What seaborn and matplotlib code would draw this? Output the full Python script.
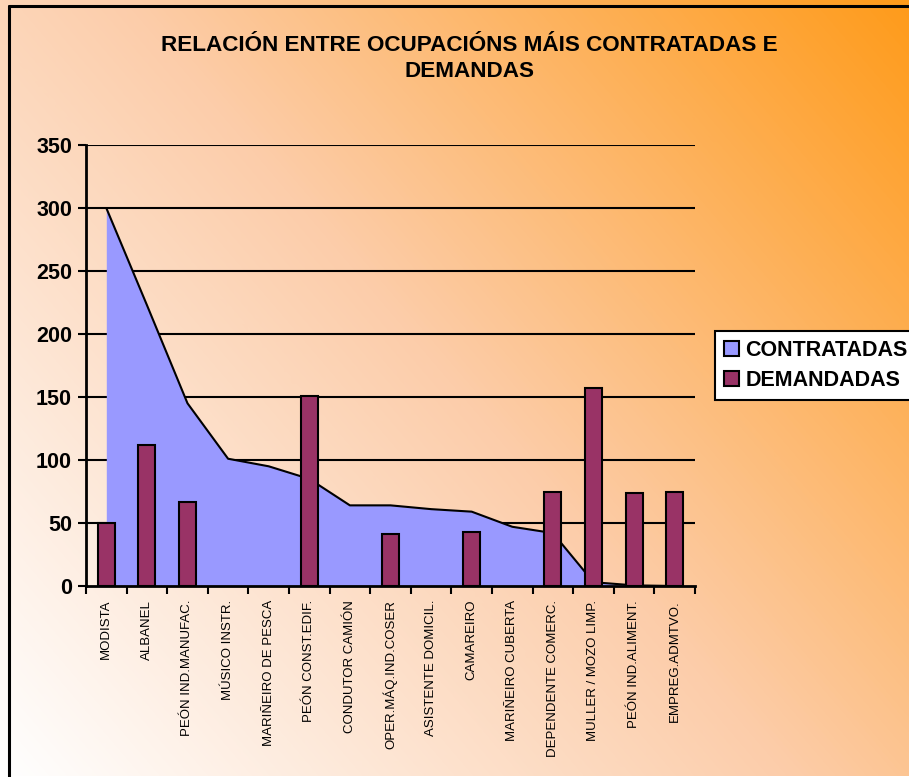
import numpy as np
import pandas as pd
import matplotlib
matplotlib.use("Agg")
import matplotlib.pyplot as plt
import seaborn as sns
from matplotlib.colors import LinearSegmentedColormap
from matplotlib.patches import Patch

sns.set_style("white")
plt.rcParams['font.family'] = ['Liberation Sans', 'DejaVu Sans']
plt.rcParams['text.color'] = 'black'
plt.rcParams['xtick.color'] = 'black'
plt.rcParams['ytick.color'] = 'black'

# data
ocupacions = ['MODISTA', 'ALBANEL', 'PEÓN IND.MANUFAC.', 'MÚSICO INSTR.',
              'MARIÑEIRO DE PESCA', 'PEÓN CONST.EDIF.', 'CONDUTOR CAMIÓN',
              'OPER.MÁQ.IND.COSER', 'ASISTENTE DOMICIL.', 'CAMAREIRO',
              'MARIÑEIRO CUBERTA', 'DEPENDENTE COMERC.', 'MULLER / MOZO LIMP.',
              'PEÓN IND.ALIMENT.', 'EMPREG.ADMTVO.']
contratadas = [300, 223, 145, 101, 95, 85, 64, 64, 61, 59, 47, 42, 3, 0.5, 0]
demandadas = [50, 112, 67, 0, 0, 151, 0, 41, 0, 43, 0, 75, 157, 74, 75]
yticks = [0, 50, 100, 150, 200, 250, 300, 350]

titulo = 'RELACIÓN ENTRE OCUPACIÓNS MÁIS CONTRATADAS E\nDEMANDAS'

df = pd.DataFrame({'ocupacion': ocupacions,
                   'contratadas': contratadas,
                   'demandadas': demandadas})
df['pos'] = np.arange(len(df))

fig = plt.figure(figsize=(9.09, 7.77), dpi=100)

# gradient background (orange top-right -> white bottom-left)
bg = fig.add_axes([0, 0, 1, 1])
W, H = 909, 777
xx, yy = np.meshgrid(np.arange(W), np.arange(H))
t = ((W - xx) * W + yy * H) / float(W * W + H * H)
cmap = LinearSegmentedColormap.from_list(
    'fondo', [(0.0, '#ff9b1a'), (0.5, '#fccdaa'), (1.0, '#ffffff')])
bg.imshow(t, cmap=cmap, vmin=0, vmax=1, aspect='auto', interpolation='bilinear')
bg.plot([9, 9], [H, 6], color='black', lw=2.2)
bg.plot([9, W], [6, 6], color='black', lw=2.2)
bg.set_xlim(0, W)
bg.set_ylim(H, 0)
bg.axis('off')

ax = fig.add_axes([86 / 909, 1 - 586 / 777, 609 / 909, 441 / 777])
ax.patch.set_alpha(0)

for y in yticks[1:]:
    ax.axhline(y, color='black', lw=1.5, zorder=1)

ax.fill_between(df['pos'], df['contratadas'], 0, color='#9999ff', lw=0, zorder=2)
sns.lineplot(data=df, x='pos', y='contratadas', color='black', lw=1.5,
             ax=ax, zorder=3)
sns.barplot(data=df, x='pos', y='demandadas', color='#993366', saturation=1,
            width=0.42, edgecolor='black', linewidth=1.5, ax=ax, zorder=4,
            native_scale=True)
# empty bars should not leave an outline on the axis
for p in ax.patches:
    if p.get_height() == 0:
        p.set_visible(False)

ax.set_xlim(-0.5, len(df) - 0.5)
ax.set_ylim(0, 350)
ax.set_yticks(yticks)
ax.set_yticklabels([str(v) for v in yticks], fontsize=15.5, fontweight='bold')
ax.set_xticks(df['pos'])
ax.set_xticklabels(ocupacions, rotation=90, fontsize=9.5)
ax.set_xticks(np.arange(-0.5, len(df)), minor=True)
ax.tick_params(axis='x', which='major', length=0, pad=10)
ax.tick_params(axis='x', which='minor', length=6, width=1.5, direction='out',
               bottom=True)
ax.tick_params(axis='y', length=6, width=1.5, direction='out', left=True, pad=4)
ax.set_xlabel('')
ax.set_ylabel('')
for s in ['top', 'right']:
    ax.spines[s].set_visible(False)
for s in ['left', 'bottom']:
    ax.spines[s].set_color('black')
    ax.spines[s].set_linewidth(2)
    ax.spines[s].set_zorder(5)

fig.text(469 / 909, 1 - 35 / 777, titulo, ha='center', va='top',
         fontsize=16.2, fontweight='bold', linespacing=1.3)

handles = [Patch(facecolor='#9999ff', edgecolor='black', lw=1.5),
           Patch(facecolor='#993366', edgecolor='black', lw=1.5)]
leg = fig.legend(handles, ['CONTRATADAS', 'DEMANDADAS'],
                 loc='upper left', bbox_to_anchor=(715 / 909, 1 - 331 / 777),
                 prop={'size': 15.5, 'weight': 'bold'}, frameon=True,
                 fancybox=False, handlelength=0.7, handleheight=0.7,
                 handletextpad=0.3, borderpad=0.4, labelspacing=0.45,
                 borderaxespad=0)
leg.get_frame().set_edgecolor('black')
leg.get_frame().set_linewidth(1.5)
leg.get_frame().set_facecolor('white')
leg.get_frame().set_alpha(1)

fig.savefig('out.png', dpi=100)
